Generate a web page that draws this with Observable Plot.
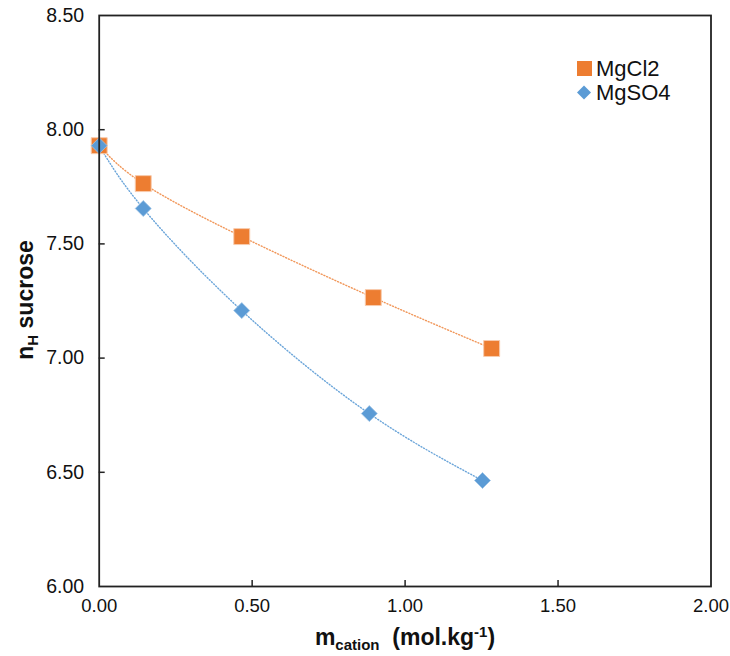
<!DOCTYPE html>
<html>
<head>
<meta charset="utf-8">
<script src="https://cdn.jsdelivr.net/npm/d3@7"></script>
<script src="https://cdn.jsdelivr.net/npm/@observablehq/plot@0.6"></script>
<style>
  html, body { margin: 0; padding: 0; background: #fff; }
  #wrap { position: relative; width: 730px; height: 656px; font-family: "Liberation Sans", Arial, sans-serif; }
  .leg { position: absolute; display: flex; align-items: center; font-size: 22px; color: #111; }
  .leg svg { margin-right: 4px; }
</style>
</head>
<body>
<div id="wrap"></div>
<script>
// Data
const mgcl2_m = [0.00, 0.144, 0.466, 0.896, 1.283];
const mgcl2_n = [7.93, 7.764, 7.532, 7.265, 7.042];
const mgso4_m = [0.00, 0.144, 0.466, 0.883, 1.253];
const mgso4_n = [7.93, 7.655, 7.208, 6.757, 6.464];
const xTicks = [0, 0.5, 1.0, 1.5, 2.0];
const yTicks = [6.0, 6.5, 7.0, 7.5, 8.0, 8.5];
const seriesNames = ["MgCl2", "MgSO4"];
const colors = ["#ED7D31", "#5B9BD5"];

const cl = mgcl2_m.map((m, i) => ({m, n: mgcl2_n[i]}));
const so = mgso4_m.map((m, i) => ({m, n: mgso4_n[i]}));

const W = 730, H = 656;
const mL = 98.7, mR = 19.5, mT = 15, mB = 70;
const innerW = W - mL - mR, innerH = H - mT - mB;

const plot = Plot.plot({
  width: W, height: H,
  marginLeft: mL, marginRight: mR, marginTop: mT, marginBottom: mB,
  style: {fontFamily: "'Liberation Sans', Arial, sans-serif", fontSize: "19px", color: "#111", background: "#fff"},
  x: {domain: [0, 2], label: null},
  y: {domain: [6, 8.5], label: null},
  marks: [
    Plot.axisX(xTicks, {tickSize: 0, tickPadding: 12, tickFormat: d3.format(".2f"), fontSize: 18.5}),
    Plot.axisY(yTicks, {tickSize: 0, tickPadding: 15, tickFormat: d3.format(".2f"), fontSize: 19.5}),
    Plot.tickY(yTicks.slice(1, -1), {y: d => d, insetRight: innerW - 6, stroke: "#222", strokeWidth: 1.5}),
    Plot.tickX(xTicks.slice(1, -1), {x: d => d, insetTop: innerH - 6, stroke: "#222", strokeWidth: 1.5}),
    Plot.line(cl, {x: "m", y: "n", curve: "natural", stroke: colors[0], strokeWidth: 1.4, strokeDasharray: "1 2", strokeOpacity: 0.8}),
    Plot.line(so, {x: "m", y: "n", curve: "natural", stroke: colors[1], strokeWidth: 1.4, strokeDasharray: "1 2", strokeOpacity: 0.9}),
    Plot.dot(cl, {x: "m", y: "n", symbol: "square", r: 9, fill: colors[0], stroke: "#F8CBAD", strokeWidth: 1}),
    Plot.dot(so, {x: "m", y: "n", symbol: "diamond2", r: 7.2, fill: colors[1], stroke: "#9DC3E6", strokeWidth: 0.8}),
    Plot.frame({stroke: "#222", strokeWidth: 1.8})
  ]
});

const wrap = document.getElementById("wrap");
wrap.appendChild(plot);

const svg = d3.select(plot);
// Y axis title with subscript
const yt = svg.append("text")
  .attr("transform", "translate(33,300) rotate(-90)")
  .attr("text-anchor", "middle")
  .attr("font-family", "'Liberation Sans', Arial, sans-serif")
  .attr("font-weight", "bold").attr("font-size", 23).attr("fill", "#111");
yt.append("tspan").text("n");
yt.append("tspan").attr("font-size", 15).attr("dy", 5).text("H");
yt.append("tspan").attr("dy", -5).text(" sucrose");

// X axis title with subscript and superscript
const xt = svg.append("text")
  .attr("x", 405).attr("y", 645)
  .attr("text-anchor", "middle")
  .attr("font-family", "'Liberation Sans', Arial, sans-serif")
  .attr("font-weight", "bold").attr("font-size", 23).attr("fill", "#111")
  .attr("xml:space", "preserve");
xt.append("tspan").text("m");
xt.append("tspan").attr("font-size", 15).attr("dy", 5).text("cation");
xt.append("tspan").attr("dy", -5).text("  (mol.kg");
xt.append("tspan").attr("font-size", 15).attr("dy", -8).text("-1");
xt.append("tspan").attr("dy", 8).text(")");

// Legend
const legendTops = [56, 80];
seriesNames.forEach((name, i) => {
  const d = document.createElement("div");
  d.className = "leg";
  d.style.left = "576px";
  d.style.top = legendTops[i] + "px";
  const sym = i === 0
    ? `<svg width="16" height="26"><rect x="1" y="5" width="15" height="15" fill="${colors[0]}"/></svg>`
    : `<svg width="16" height="26"><path d="M8,5.5 L15,12.5 L8,19.5 L1,12.5 Z" fill="${colors[1]}"/></svg>`;
  d.innerHTML = sym + `<span>${name}</span>`;
  wrap.appendChild(d);
});
</script>
</body>
</html>
